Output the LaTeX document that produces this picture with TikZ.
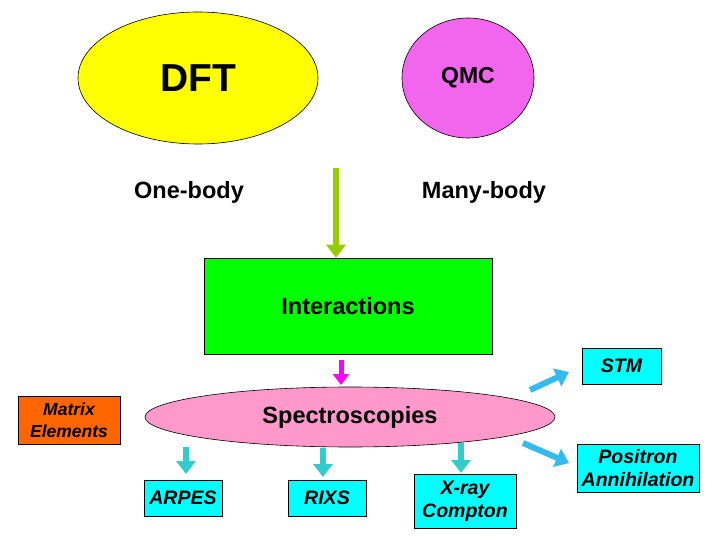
\documentclass[tikz,border=0pt]{standalone}
\usepackage{fontspec}
\setmainfont{Liberation Sans}
\usetikzlibrary{shapes.geometric,arrows.meta}
\definecolor{dftyellow}{HTML}{FFFF00}
\definecolor{qmcpink}{HTML}{F266EE}
\definecolor{intgreen}{HTML}{00FF00}
\definecolor{specpink}{HTML}{FF99CC}
\definecolor{matorange}{HTML}{FF6600}
\definecolor{boxcyan}{HTML}{00FFFF}
\definecolor{arrolive}{HTML}{99CC00}
\definecolor{arrmag}{HTML}{FF00FF}
\definecolor{arrteal}{HTML}{33CCCC}
\definecolor{arrblue}{HTML}{33BBEE}
\tikzset{
  ell/.style={ellipse,draw=black,line width=0.6pt,inner sep=0pt},
  cbox/.style={rectangle,draw=black,line width=0.6pt,fill=boxcyan,align=center,inner sep=0pt,font=\fontsize{19.5}{23}\selectfont\bfseries\itshape},
  fatarrow/.style={line width=6pt,-{Triangle[width=19pt,length=13pt]}},
  lbl/.style={font=\fontsize{23.5}{27}\selectfont\bfseries}
}
\begin{document}
\begin{tikzpicture}[x=1pt,y=-1pt]
\useasboundingbox (0,0) rectangle (720,540);
\node[ell,fill=dftyellow,minimum width=240pt,minimum height=132pt,font=\fontsize{39}{46}\selectfont\bfseries] (dft) at (198,78) {DFT};
\node[ell,fill=qmcpink,minimum width=132pt,minimum height=120pt,font=\fontsize{23}{27}\selectfont\bfseries] (qmc) at (468,78) {QMC};
\node[lbl] (one) at (189,192) {One-body};
\node[lbl] (many) at (484,192) {Many-body};
\node[rectangle,draw=black,line width=0.6pt,fill=intgreen,minimum width=288pt,minimum height=96pt,lbl] (int) at (348,306) {Interactions};
\coordinate (gtop) at (336,168);
\draw[fatarrow,draw=arrolive,fill=arrolive] (gtop) -- (int.north -| gtop);
\node[ell,fill=specpink,minimum width=410pt,minimum height=60pt,lbl] (spec) at (350,417) {Spectroscopies};
\coordinate (mtop) at (341,360);
\draw[line width=5pt,-{Triangle[width=16pt,length=11pt]},draw=arrmag,fill=arrmag] (mtop) -- (341,385);
\node[rectangle,draw=black,line width=0.6pt,fill=matorange,minimum width=102pt,minimum height=48pt,align=center,inner sep=0pt,font=\fontsize{17.5}{22}\selectfont\bfseries\itshape] (mat) at (69,420) {Matrix\\Elements};
\node[cbox,minimum width=79pt,minimum height=36pt] (stm) at (621.5,366) {STM};
\node[cbox,minimum width=122pt,minimum height=48pt] (pos) at (638,468) {Positron\\Annihilation};
\node[cbox,minimum width=78pt,minimum height=36pt] (arpes) at (183,498) {ARPES};
\node[cbox,minimum width=78pt,minimum height=36pt] (rixs) at (327,498) {RIXS};
\node[cbox,minimum width=102pt,minimum height=54pt] (xray) at (465,501) {X-ray\\Compton};
\coordinate (a1) at (186,447);
\coordinate (a2) at (323,448);
\coordinate (a3) at (461,443);
\draw[fatarrow,draw=arrteal,fill=arrteal] (a1) -- (186,474);
\draw[fatarrow,draw=arrteal,fill=arrteal] (a2) -- (323,477);
\draw[fatarrow,draw=arrteal,fill=arrteal] (a3) -- (461,473);
\coordinate (b1) at (530,390);
\coordinate (b2) at (523,443);
\draw[fatarrow,draw=arrblue,fill=arrblue] (b1) -- (569,372);
\draw[fatarrow,draw=arrblue,fill=arrblue] (b2) -- (569,463);
\end{tikzpicture}
\end{document}
